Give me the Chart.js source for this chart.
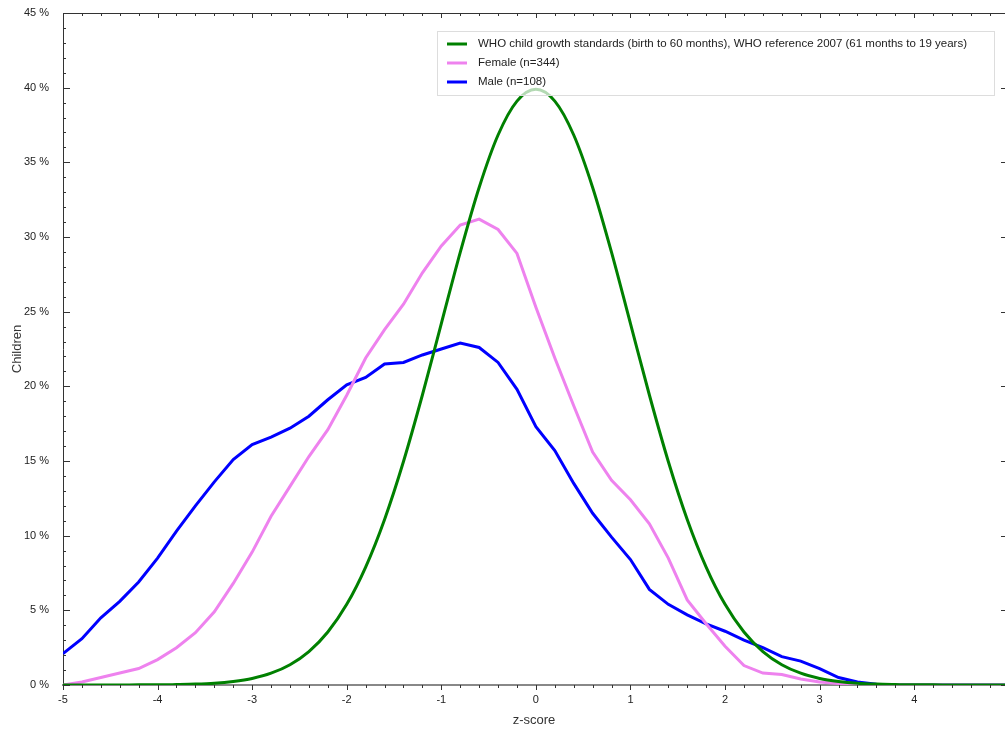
<!DOCTYPE html>
<html>
<head>
<meta charset="utf-8">
<script src="https://cdn.jsdelivr.net/npm/chart.js@4.4.1/dist/chart.umd.min.js"></script>
<style>
  body { margin: 0; background: #fff; }
</style>
</head>
<body>
<canvas id="zscore" width="1005" height="730"></canvas>
<script>
// z-score steps
const zScores = [
  -5, -4.8, -4.6, -4.4, -4.2, -4, -3.8, -3.6, -3.4, -3.2,
  -3, -2.8, -2.6, -2.4, -2.2, -2, -1.8, -1.6, -1.4, -1.2,
  -1, -0.8, -0.6, -0.4, -0.2, 0, 0.2, 0.4, 0.6, 0.8,
  1, 1.2, 1.4, 1.6, 1.8, 2, 2.2, 2.4, 2.6, 2.8,
  3, 3.2, 3.4, 3.6, 3.8, 4, 4.2, 4.4, 4.6, 4.8, 5
];

// % of children
const whoRef = [
  0, 0, 0, 0, 0.01, 0.01, 0.03, 0.06, 0.12, 0.24,
  0.44, 0.79, 1.36, 2.24, 3.55, 5.4, 7.9, 11.09, 14.97, 19.42,
  24.2, 28.97, 33.32, 36.83, 39.1, 39.89, 39.1, 36.83, 33.32, 28.97,
  24.2, 19.42, 14.97, 11.09, 7.9, 5.4, 3.55, 2.24, 1.36, 0.79,
  0.44, 0.24, 0.12, 0.06, 0.03, 0.01, 0.01, 0, 0, 0, 0
];
const female = [
  0, 0.2, 0.5, 0.8, 1.1, 1.7, 2.5, 3.5, 4.9, 6.8,
  8.9, 11.3, 13.3, 15.3, 17.1, 19.4, 21.9, 23.8, 25.5, 27.6,
  29.4, 30.8, 31.2, 30.5, 28.9, 25.3, 21.9, 18.7, 15.6, 13.7,
  12.4, 10.8, 8.5, 5.7, 4.1, 2.6, 1.3, 0.8, 0.7, 0.4,
  0.2, 0.1, 0.05, 0, 0, 0, 0, 0, 0, 0, 0
];
const male = [
  2.1, 3.1, 4.5, 5.6, 6.9, 8.5, 10.3, 12.0, 13.6, 15.1,
  16.1, 16.6, 17.2, 18.0, 19.1, 20.1, 20.6, 21.5, 21.6, 22.1,
  22.5, 22.9, 22.6, 21.6, 19.8, 17.3, 15.7, 13.5, 11.5, 9.9,
  8.4, 6.4, 5.4, 4.7, 4.1, 3.6, 3.0, 2.5, 1.9, 1.6,
  1.1, 0.5, 0.2, 0.05, 0, 0, 0, 0, 0, 0, 0
];

const seriesLabels = [
  "WHO child growth standards (birth to 60 months), WHO reference 2007 (61 months to 19 years)",
  "Female (n=344)",
  "Male (n=108)"
];

const toPoints = (vals) => vals.map((v, i) => ({ x: zScores[i], y: v }));

// inward/outward ticks, minor ticks, top frame
const frameTicks = {
  id: "frameTicks",
  afterDraw(chart) {
    const { ctx, chartArea: a, scales: { x, y } } = chart;
    ctx.save();
    ctx.strokeStyle = "#333";
    ctx.lineWidth = 1;
    ctx.beginPath();
    ctx.moveTo(a.left, a.top + 0.5);
    ctx.lineTo(a.right, a.top + 0.5);
    for (let i = -50; i <= 49; i += 2) {
      const px = Math.round(x.getPixelForValue(i / 10)) + 0.5;
      const len = i % 10 === 0 ? 5 : 3;
      ctx.moveTo(px, a.bottom);
      ctx.lineTo(px, a.bottom + len);
      ctx.moveTo(px, a.top);
      ctx.lineTo(px, a.top + len);
    }
    for (let v = 0; v <= 45; v++) {
      const py = Math.round(y.getPixelForValue(v)) + 0.5;
      const major = v % 5 === 0;
      ctx.moveTo(a.left, py);
      ctx.lineTo(a.left + (major ? 7 : 3), py);
      if (major) {
        ctx.moveTo(a.right, py);
        ctx.lineTo(a.right - 4, py);
      }
    }
    ctx.stroke();
    ctx.restore();
  }
};

// legend box inside the plot
const boxLegend = {
  id: "boxLegend",
  afterDatasetsDraw(chart) {
    const { ctx } = chart;
    const left = 437, top = 31, w = 557, h = 64;
    ctx.save();
    ctx.fillStyle = "rgba(255,255,255,0.7)";
    ctx.fillRect(left, top, w, h);
    ctx.strokeStyle = "#ddd";
    ctx.lineWidth = 1;
    ctx.strokeRect(left + 0.5, top + 0.5, w, h);
    ctx.font = "11.5px 'Liberation Sans', Arial, sans-serif";
    ctx.textBaseline = "middle";
    chart.data.datasets.forEach((ds, i) => {
      const cy = top + 13 + i * 19;
      ctx.strokeStyle = ds.borderColor;
      ctx.lineWidth = 3;
      ctx.beginPath();
      ctx.moveTo(447, cy);
      ctx.lineTo(467, cy);
      ctx.stroke();
      ctx.fillStyle = "#222";
      ctx.fillText(ds.label, 478, cy);
    });
    ctx.restore();
  }
};

new Chart(document.getElementById("zscore"), {
  type: "line",
  data: {
    datasets: [
      {
        label: seriesLabels[0],
        data: toPoints(whoRef),
        borderColor: "#008000",
        borderWidth: 3,
        pointRadius: 0,
        cubicInterpolationMode: "monotone"
      },
      {
        label: seriesLabels[1],
        data: toPoints(female),
        borderColor: "#EE82EE",
        borderWidth: 3,
        pointRadius: 0,
        tension: 0
      },
      {
        label: seriesLabels[2],
        data: toPoints(male),
        borderColor: "#0000FF",
        borderWidth: 3,
        pointRadius: 0,
        tension: 0
      }
    ]
  },
  options: {
    responsive: false,
    animation: false,
    devicePixelRatio: 1,
    layout: { padding: { top: 13, right: 0, left: 0, bottom: 0 } },
    plugins: {
      legend: { display: false },
      tooltip: { enabled: false }
    },
    scales: {
      x: {
        type: "linear",
        min: -5,
        max: 4.96,
        afterBuildTicks: (s) => {
          s.ticks = [-5, -4, -3, -2, -1, 0, 1, 2, 3, 4].map((v) => ({ value: v }));
        },
        afterFit: (s) => { s.height = 45; },
        grid: { display: false },
        border: { display: true, color: "#888", width: 2 },
        ticks: {
          padding: 0,
          color: "#222",
          font: { family: "'Liberation Sans', Arial, sans-serif", size: 11 },
          maxRotation: 0
        },
        title: {
          display: true,
          text: "z-score",
          color: "#333",
          padding: { top: 0, bottom: 2 },
          font: { family: "'Liberation Sans', Arial, sans-serif", size: 13 }
        }
      },
      y: {
        min: 0,
        max: 45,
        afterFit: (s) => { s.width = 63; },
        grid: { display: false },
        border: { display: true, color: "#333", width: 1 },
        ticks: {
          stepSize: 5,
          padding: 6,
          color: "#222",
          font: { family: "'Liberation Sans', Arial, sans-serif", size: 11 },
          callback: (v) => v + " %"
        },
        title: {
          display: true,
          text: "Children",
          color: "#333",
          padding: { top: 10, bottom: 0 },
          font: { family: "'Liberation Sans', Arial, sans-serif", size: 13 }
        }
      }
    }
  },
  plugins: [frameTicks, boxLegend]
});
</script>
</body>
</html>
